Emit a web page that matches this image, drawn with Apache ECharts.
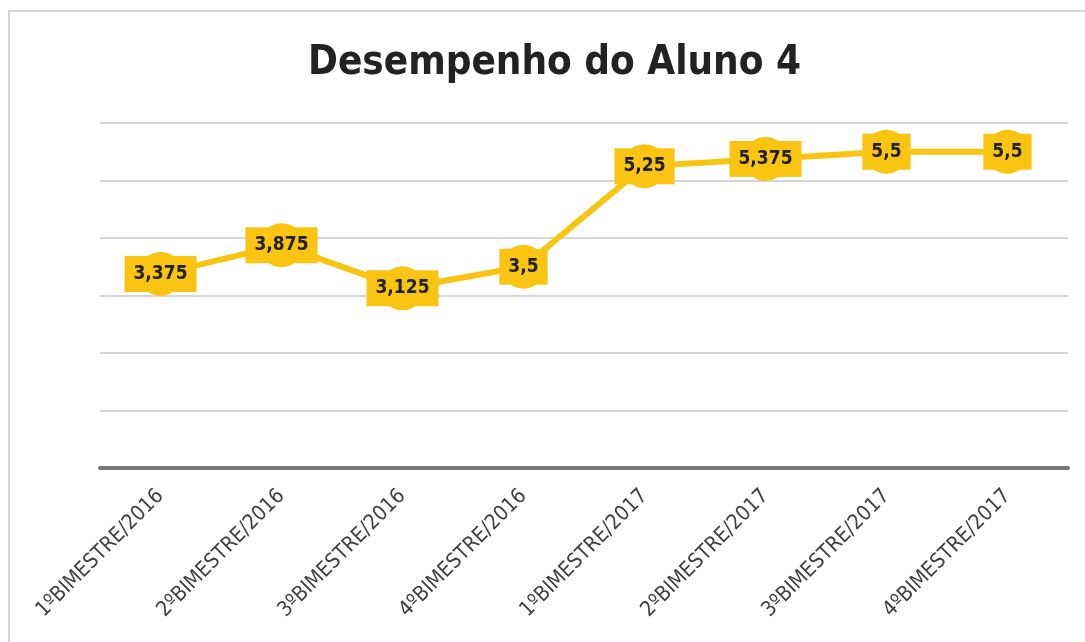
<!DOCTYPE html>
<html lang="pt">
  <head>
    <meta charset="UTF-8" />
    <title>Desempenho do Aluno 4</title>
    <script src="https://cdn.jsdelivr.net/npm/echarts@6/dist/echarts.min.js"></script>
    <style>
      html, body { margin: 0; padding: 0; background: #fff; }
      .echarts { width: 1085px; height: 642px; }
    </style>
  </head>
  <body>
    <div class="echarts"></div>
    <script>
      const categories = ['1ºBIMESTRE/2016', '2ºBIMESTRE/2016', '3ºBIMESTRE/2016', '4ºBIMESTRE/2016',
        '1ºBIMESTRE/2017', '2ºBIMESTRE/2017', '3ºBIMESTRE/2017', '4ºBIMESTRE/2017']
      const notas = [3.375, 3.875, 3.125, 3.5, 5.25, 5.375, 5.5, 5.5]

      const yellow = '#FAC412'
      const font = "'DejaVu Sans Condensed', sans-serif"

      const myCharts = echarts.init(document.querySelector('.echarts'))
      const option = {
        animation: false,
        title: {
          text: 'Desempenho do Aluno 4',
          left: 303,
          top: 39,
          textStyle: { fontFamily: font, fontSize: 40, fontWeight: 'bold', color: '#222' }
        },
        // moldura cinza do gráfico
        graphic: [{
          type: 'rect',
          shape: { x: 9, y: 11, width: 1200, height: 800 },
          style: { fill: 'none', stroke: '#d4d4d4', lineWidth: 2 },
          silent: true
        }],
        grid: { left: 100, right: 17, top: 123, bottom: 174 },
        xAxis: {
          type: 'category',
          data: categories,
          axisTick: { show: false },
          axisLine: { lineStyle: { color: '#767676', width: 4 } },
          axisLabel: {
            rotate: 45,
            margin: 25,
            fontFamily: font,
            fontSize: 21,
            color: '#404040'
          }
        },
        yAxis: {
          type: 'value',
          min: 0,
          max: 6,
          interval: 1,
          axisLabel: { show: false },
          axisLine: { show: false },
          axisTick: { show: false },
          splitLine: { lineStyle: { color: '#c8c8c8', width: 1.5 } }
        },
        series: [{
          type: 'line',
          data: notas,
          symbol: 'circle',
          symbolSize: 44,
          itemStyle: { color: yellow },
          lineStyle: { color: yellow, width: 6 },
          label: {
            show: true,
            position: 'inside',
            formatter: p => String(p.value).replace('.', ','),
            backgroundColor: yellow,
            padding: [9, 9, 8, 9],
            fontFamily: font,
            fontSize: 19,
            fontWeight: 'bold',
            color: '#222'
          }
        }]
      }
      myCharts.setOption(option)
    </script>
  </body>
</html>
